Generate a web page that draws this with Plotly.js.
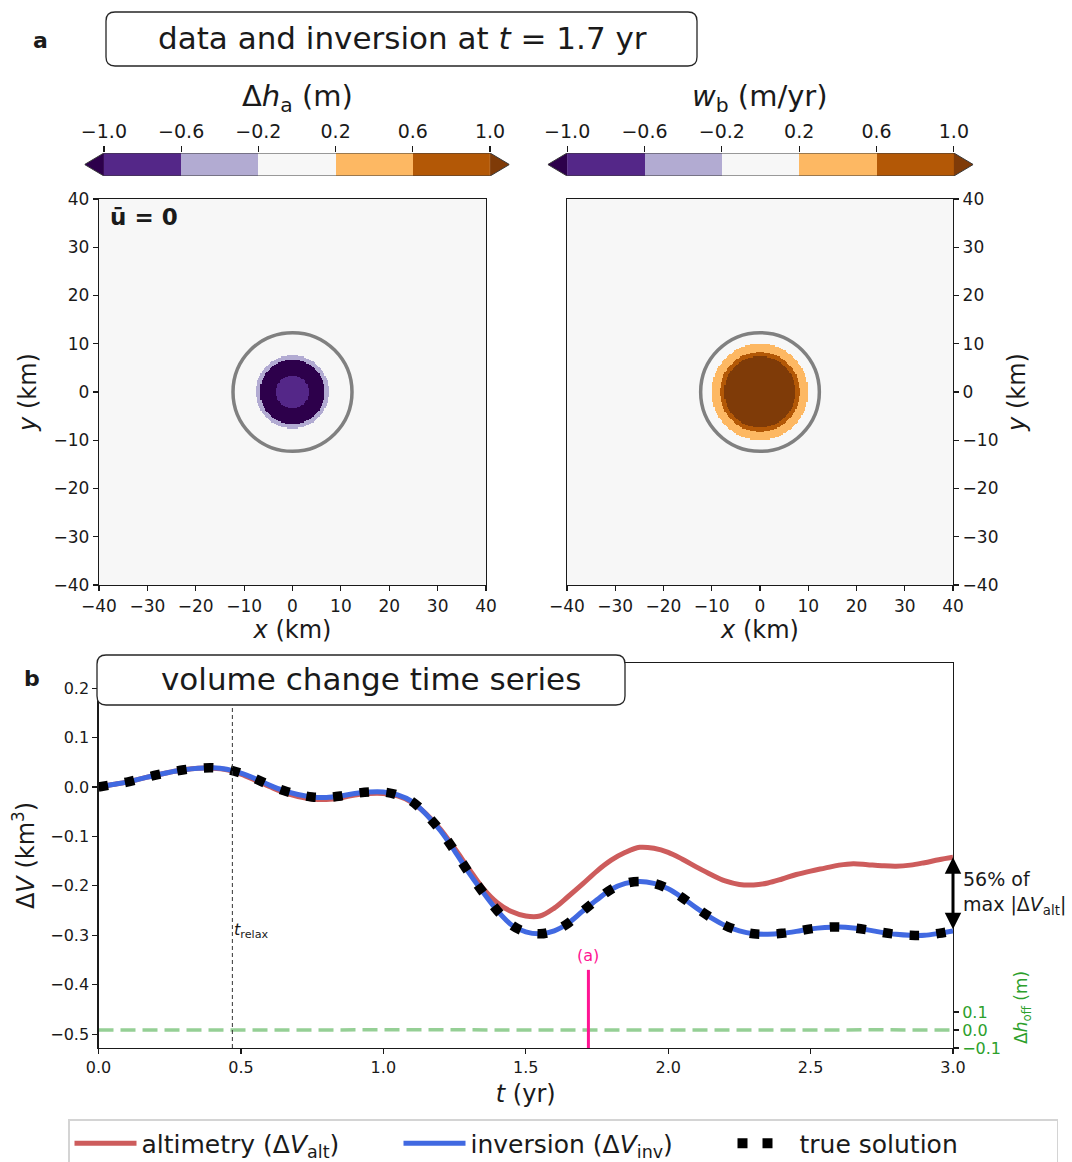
<!DOCTYPE html>
<html><head><meta charset="utf-8">
<script src="https://cdn.plot.ly/plotly-3.0.1.min.js"></script>
<style>html,body{margin:0;padding:0;background:#fff}#chart{width:1072px;height:1162px}</style>
</head><body><div id="chart"></div>
<script>
const mapTicks = [-40,-30,-20,-10,0,10,20,30,40];
const dhBandOuterRadiusKm = [3.4, 6.7, 7.6];
const dhBandValues = [-0.8, -1.2, -0.4, 0.0];
const wbBandOuterRadiusKm = [7.4, 8.3, 10.0];
const wbBandValues = [1.2, 0.8, 0.4, 0.0];
const outlineRadiusKm = 12.3;
const cbLevels = [-1.0,-0.6,-0.2,0.2,0.6,1.0];
const cbLabels = ['−1.0','−0.6','−0.2','0.2','0.6','1.0'];
const cbColors = ['#2d004b','#542788','#b2abd2','#f7f7f7','#fdb863','#b35806','#7f3b08'];

// ---------- panel b data ----------
const tYr = [0.00,0.05,0.10,0.15,0.20,0.25,0.30,0.35,0.40,0.45,
             0.50,0.55,0.60,0.65,0.70,0.75,0.80,0.85,0.90,0.95,
             1.00,1.05,1.10,1.15,1.20,1.25,1.30,1.35,1.40,1.45,
             1.50,1.55,1.60,1.65,1.70,1.75,1.80,1.85,1.90,1.95,
             2.00,2.05,2.10,2.15,2.20,2.25,2.30,2.35,2.40,2.45,
             2.50,2.55,2.60,2.65,2.70,2.75,2.80,2.85,2.90,2.95,3.00];
const dVAlt = [0.000,0.005,0.010,0.017,0.024,0.030,0.035,0.038,0.038,0.035,
               0.026,0.014,0.001,-0.011,-0.019,-0.024,-0.025,-0.022,-0.016,-0.013,
               -0.013,-0.018,-0.031,-0.054,-0.085,-0.124,-0.165,-0.205,-0.234,-0.252,
               -0.261,-0.261,-0.245,-0.221,-0.196,-0.170,-0.148,-0.132,-0.122,-0.124,
               -0.132,-0.146,-0.162,-0.177,-0.190,-0.197,-0.198,-0.194,-0.186,-0.177,
               -0.170,-0.164,-0.158,-0.155,-0.157,-0.159,-0.160,-0.158,-0.153,-0.147,-0.142];
const dVInv = [0.000,0.005,0.010,0.017,0.024,0.030,0.035,0.038,0.039,0.036,
               0.028,0.017,0.004,-0.007,-0.015,-0.020,-0.021,-0.018,-0.013,-0.010,
               -0.010,-0.016,-0.029,-0.055,-0.088,-0.129,-0.173,-0.213,-0.250,-0.279,
               -0.293,-0.297,-0.291,-0.275,-0.251,-0.228,-0.207,-0.195,-0.191,-0.195,
               -0.206,-0.224,-0.245,-0.264,-0.280,-0.291,-0.297,-0.298,-0.296,-0.292,
               -0.287,-0.284,-0.283,-0.285,-0.289,-0.294,-0.298,-0.300,-0.300,-0.296,-0.291];
const dVTrue = [0.000,0.005,0.010,0.017,0.024,0.030,0.035,0.038,0.039,0.036,
               0.028,0.017,0.004,-0.007,-0.015,-0.020,-0.021,-0.018,-0.013,-0.010,
               -0.010,-0.016,-0.029,-0.055,-0.088,-0.129,-0.173,-0.213,-0.250,-0.279,
               -0.293,-0.297,-0.291,-0.275,-0.251,-0.228,-0.207,-0.195,-0.191,-0.195,
               -0.206,-0.224,-0.245,-0.264,-0.280,-0.291,-0.297,-0.298,-0.296,-0.292,
               -0.287,-0.284,-0.283,-0.285,-0.289,-0.294,-0.298,-0.300,-0.300,-0.296,-0.291];
const tOff = [0.00,0.25,0.50,0.75,1.00,1.25,1.50,1.75,2.00,2.25,2.50,2.75,3.00];
const dhOff = [0.000,0.001,0.000,-0.001,0.000,0.001,0.000,-0.001,0.000,-0.002,0.000,0.001,0.000];
const tRelax = 0.47;
const tSnapshot = 1.72;
const xTicksB = [0,0.5,1.0,1.5,2.0,2.5,3.0];
const yTicksB = [0.2,0.1,0.0,-0.1,-0.2,-0.3,-0.4,-0.5];
const offTicks = [-0.1,0.0,0.1];

// ---------- helpers ----------
const W = 1072, H = 1162;
const px = x => x / W, py = y => 1 - y / H;
const FONT = 'DejaVu Sans, sans-serif';
const INK = '#1a1a1a';

function roundRectPath(x0,y0,x1,y1,r){
  const rx=r/W, ry=r/H, X0=px(x0), X1=px(x1), Yt=py(y0), Yb=py(y1);
  return `M${X0+rx},${Yt} L${X1-rx},${Yt} Q${X1},${Yt} ${X1},${Yt-ry} L${X1},${Yb+ry} Q${X1},${Yb} ${X1-rx},${Yb} L${X0+rx},${Yb} Q${X0},${Yb} ${X0},${Yb+ry} L${X0},${Yt-ry} Q${X0},${Yt} ${X0+rx},${Yt} Z`;
}
function discreteScale(colors){
  const n = colors.length, s = [];
  colors.forEach((c,i)=>{ s.push([i/n,c]); s.push([(i+1)/n,c]); });
  return s;
}
const cscale = discreteScale(cbColors);
const ZMIN = -1.4, ZMAX = 1.4;

const gridStepKm = 0.25;
const gx = [];
for (let v = -40; v <= 40 + 1e-9; v += gridStepKm) gx.push(+v.toFixed(3));
function bandField(edges, vals){
  return gx.map(y => gx.map(x => {
    const r = Math.hypot(x, y);
    for (let i = 0; i < edges.length; i++) if (r < edges[i]) return vals[i];
    return vals[vals.length-1];
  }));
}

const traces = [];
traces.push({type:'heatmap', x:gx, y:gx, z:bandField(dhBandOuterRadiusKm, dhBandValues), xaxis:'x', yaxis:'y',
  colorscale:cscale, zmin:ZMIN, zmax:ZMAX, showscale:false, zsmooth:false, hoverinfo:'skip'});
traces.push({type:'heatmap', x:gx, y:gx, z:bandField(wbBandOuterRadiusKm, wbBandValues), xaxis:'x2', yaxis:'y2',
  colorscale:cscale, zmin:ZMIN, zmax:ZMAX, showscale:false, zsmooth:false, hoverinfo:'skip'});

const cbCenters = cbLevels.slice(0,-1).map((v,i)=> (v + cbLevels[i+1]) / 2);
const cbExt = 0.1;
[['x3','y3'],['x4','y4']].forEach(([xa,ya])=>{
  traces.push({type:'heatmap', x:cbCenters, y:[0.5], z:[cbCenters], xaxis:xa, yaxis:ya,
    colorscale:cscale, zmin:ZMIN, zmax:ZMAX, showscale:false, zsmooth:false, hoverinfo:'skip'});
  const lo = cbLevels[0], hi = cbLevels[cbLevels.length-1];
  traces.push({type:'scatter', mode:'lines', x:[lo, lo-cbExt, lo, lo], y:[0,0.5,1,0], fill:'toself',
    fillcolor:cbColors[0], line:{width:0}, xaxis:xa, yaxis:ya, showlegend:false, hoverinfo:'skip'});
  traces.push({type:'scatter', mode:'lines', x:[hi, hi+cbExt, hi, hi], y:[0,0.5,1,0], fill:'toself',
    fillcolor:cbColors[cbColors.length-1], line:{width:0}, xaxis:xa, yaxis:ya, showlegend:false, hoverinfo:'skip'});
  traces.push({type:'scatter', mode:'lines', x:[lo, hi, hi+cbExt, hi, lo, lo-cbExt, lo], y:[0,0,0.5,1,1,0.5,0],
    line:{color:'#3a3a3a', width:1}, xaxis:xa, yaxis:ya, showlegend:false, hoverinfo:'skip'});
});

traces.push({type:'scatter', mode:'lines', x:tOff, y:dhOff, xaxis:'x5', yaxis:'y6',
  line:{color:'rgba(44,160,44,0.5)', width:3.5, dash:'15px,7px'}, showlegend:false, hoverinfo:'skip'});
traces.push({type:'scatter', mode:'lines', x:tYr, y:dVAlt, xaxis:'x5', yaxis:'y5', name:'altimetry (Δ<i>V</i><sub>alt</sub>)',
  line:{color:'#cd5c5c', width:5, shape:'spline'}});
traces.push({type:'scatter', mode:'lines', x:tYr, y:dVInv, xaxis:'x5', yaxis:'y5', name:'inversion (Δ<i>V</i><sub>inv</sub>)',
  line:{color:'#4169e1', width:5, shape:'spline'}});
traces.push({type:'scatter', mode:'lines', x:tYr, y:dVTrue, xaxis:'x5', yaxis:'y5', name:'true solution', showlegend:false,
  line:{color:'#000', width:9.5, shape:'spline', dash:'9.5px,17.3px'}});
traces.push({type:'scatter', mode:'lines', x:[null], y:[null], xaxis:'x5', yaxis:'y5', name:'true solution',
  line:{color:'#000', width:10, dash:'0px,5px,10px,15px,10px,60px'}});

const axBase = {showgrid:false, zeroline:false, showline:true, linecolor:INK, linewidth:1.2, mirror:true,
  ticks:'outside', ticklen:5, tickwidth:1.2, tickcolor:INK, tickfont:{size:17, color:INK, family:FONT}};
const mapDomY = [py(585), py(199)];

function note(xp, yp, text, size, extra){
  return Object.assign({xref:'paper', yref:'paper', x:px(xp), y:py(yp), text:text, showarrow:false,
    xanchor:'center', yanchor:'middle', font:{size:size}}, extra || {});
}

const layout = {
  width:W, height:H, margin:{l:0,r:0,t:0,b:0, autoexpand:false},
  paper_bgcolor:'#fff', plot_bgcolor:'#fff', font:{family:FONT, color:INK},
  showlegend:true,
  legend:{orientation:'h', x:px(68), y:py(1119), xanchor:'left', yanchor:'top', entrywidth:252, entrywidthmode:'pixels',
    itemwidth:62, font:{size:25, family:FONT, color:INK}, bordercolor:'#d4d4d4', borderwidth:1.5, bgcolor:'#fff'},
  xaxis:Object.assign({}, axBase, {domain:[px(99),px(486)], range:[-40,40], anchor:'y', tickvals:mapTicks,
    title:{text:'<i>x</i> (km)', font:{size:24}, standoff:6}}),
  yaxis:Object.assign({}, axBase, {domain:mapDomY, range:[-40,40], anchor:'x', tickvals:mapTicks,
    title:{text:'<i>y</i> (km)', font:{size:24}, standoff:10}}),
  xaxis2:Object.assign({}, axBase, {domain:[px(567),px(953)], range:[-40,40], anchor:'y2', tickvals:mapTicks,
    title:{text:'<i>x</i> (km)', font:{size:24}, standoff:6}}),
  yaxis2:Object.assign({}, axBase, {domain:mapDomY, range:[-40,40], anchor:'x2', side:'right', tickvals:mapTicks,
    title:{text:'<i>y</i> (km)', font:{size:24}, standoff:10}}),
  xaxis3:{domain:[px(84.6),px(509.4)], range:[-1.1,1.1], anchor:'y3', side:'top', showgrid:false, zeroline:false, showline:false,
    ticks:'outside', ticklen:6, tickwidth:1.2, tickcolor:INK, tickvals:cbLevels, ticktext:cbLabels, tickfont:{size:19, color:INK}},
  yaxis3:{domain:[py(176),py(153)], range:[0,1], anchor:'x3', visible:false},
  xaxis4:{domain:[px(547.8),px(973.2)], range:[-1.1,1.1], anchor:'y4', side:'top', showgrid:false, zeroline:false, showline:false,
    ticks:'outside', ticklen:6, tickwidth:1.2, tickcolor:INK, tickvals:cbLevels, ticktext:cbLabels, tickfont:{size:19, color:INK}},
  yaxis4:{domain:[py(176),py(153)], range:[0,1], anchor:'x4', visible:false},
  xaxis5:Object.assign({}, axBase, {domain:[px(98.5),px(953)], range:[0,3], anchor:'y5', tickvals:xTicksB, tickformat:'.1f',
    tickfont:{size:16, color:INK}, title:{text:'<i>t</i> (yr)', font:{size:24}, standoff:8}}),
  yaxis5:Object.assign({}, axBase, {domain:[py(1048),py(663)], range:[-0.528,0.251], anchor:'x5', tickvals:yTicksB, tickformat:'.1f',
    tickfont:{size:16, color:INK}, title:{text:'Δ<i>V</i> (km<sup>3</sup>)', font:{size:24}, standoff:8}}),
  yaxis6:{overlaying:'y5', anchor:'x5', side:'right', range:[-0.1,2.039], showgrid:false, zeroline:false, showline:false,
    ticks:'outside', ticklen:5, tickwidth:1.2, tickcolor:INK, tickvals:offTicks, tickformat:'.1f', tickfont:{size:16, color:'#2ca02c'}},
  shapes:[
    {type:'circle', xref:'x', yref:'y', x0:-outlineRadiusKm, x1:outlineRadiusKm, y0:-outlineRadiusKm, y1:outlineRadiusKm,
      line:{color:'#808080', width:3.5}, layer:'above'},
    {type:'circle', xref:'x2', yref:'y2', x0:-outlineRadiusKm, x1:outlineRadiusKm, y0:-outlineRadiusKm, y1:outlineRadiusKm,
      line:{color:'#808080', width:3.5}, layer:'above'},
    {type:'line', xref:'x5', yref:'y5 domain', x0:tRelax, x1:tRelax, y0:0, y1:1, line:{color:'#333', width:1, dash:'4px,3px'}, layer:'above'},
    {type:'line', xref:'x5', yref:'y5 domain', x0:tSnapshot, x1:tSnapshot, y0:0, y1:0.203, line:{color:'#ff1493', width:3}, layer:'above'},
    {type:'path', xref:'paper', yref:'paper', path:roundRectPath(106,12,697,66,9), line:{color:'#262626', width:1.3}, fillcolor:'#fff', layer:'above'},
    {type:'path', xref:'paper', yref:'paper', path:roundRectPath(97,655,625,705,9), line:{color:'#262626', width:1.3}, fillcolor:'#fff', layer:'above'}
  ],
  annotations:[
    note(40, 40, '<b>a</b>', 22),
    note(32, 678, '<b>b</b>', 22),
    note(402, 38, 'data and inversion at <i>t</i> = 1.7 yr', 31),
    note(371, 679, 'volume change time series', 31),
    note(297, 98, 'Δ<i>h</i><sub>a</sub> (m)', 29),
    note(760, 98, '<i>w</i><sub>b</sub> (m/yr)', 29),
    note(108, 217, '<b>ū = 0</b>', 23, {xanchor:'left'}),
    {xref:'x5', yref:'y5', x:tRelax, y:-0.29, xanchor:'left', yanchor:'middle', text:'<i>t</i><sub>relax</sub>', showarrow:false, font:{size:16}},
    {xref:'x5', yref:'y5', x:tSnapshot, y:-0.341, xanchor:'center', yanchor:'middle', text:'(a)', showarrow:false, font:{size:16, color:'#ff1493'}},
    {xref:'x5', yref:'y5', x:3.0, y:dVAlt[dVAlt.length-1], axref:'x5', ayref:'y5', ax:3.0, ay:dVInv[dVInv.length-1],
      text:'', showarrow:true, arrowside:'end+start', arrowhead:2, startarrowhead:2, arrowsize:1.1, startarrowsize:1.1,
      arrowwidth:3, arrowcolor:'#000', standoff:0, startstandoff:0},
    note(961, 893, '56% of<br>max |Δ<i>V</i><sub>alt</sub>|', 19, {xanchor:'left', align:'left'}),
    note(1022, 1008, 'Δ<i>h</i><sub>off</sub> (m)', 17, {textangle:-90, font:{size:17, color:'#2ca02c'}})
  ]
};

Plotly.newPlot('chart', traces, layout, {displayModeBar:false, staticPlot:true});
</script></body></html>
